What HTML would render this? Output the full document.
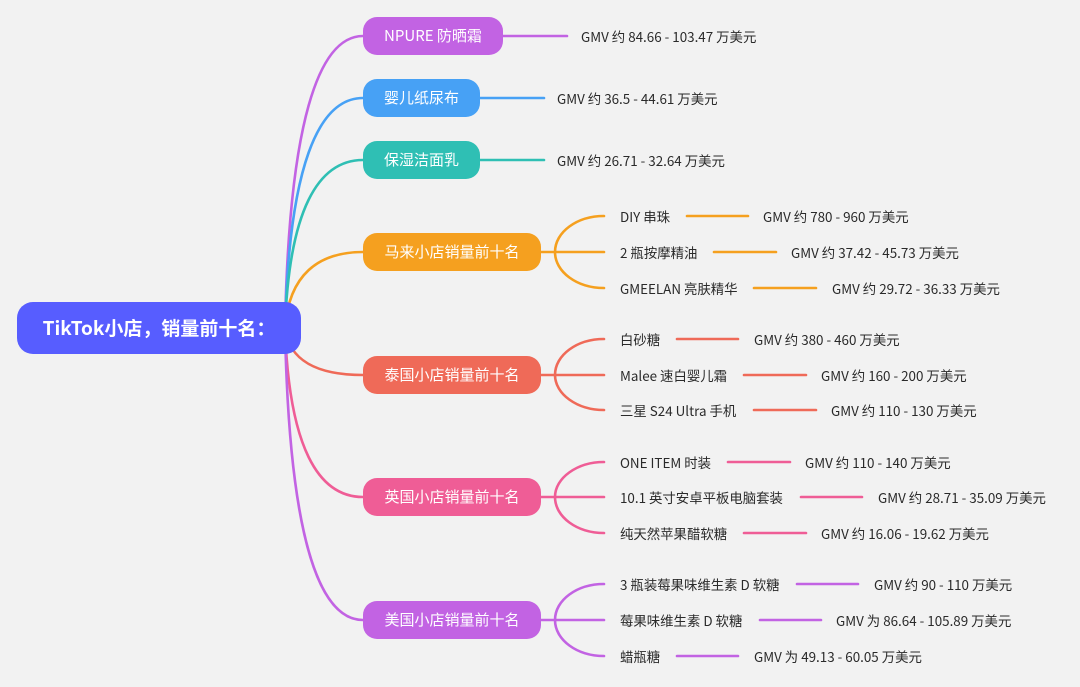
<!DOCTYPE html>
<html><head><meta charset="utf-8">
<style>
html,body{margin:0;padding:0;}
body{width:1080px;height:687px;background:#F2F2F2;position:relative;overflow:hidden;font-family:"Liberation Sans","Noto Sans CJK SC",sans-serif;}
svg{position:absolute;left:0;top:0;}
.node{position:absolute;height:38px;line-height:38px;border-radius:14px;color:#fff;font-size:15px;text-align:center;white-space:nowrap;font-family:"Noto Sans CJK SC","Liberation Sans",sans-serif;}
.root{position:absolute;left:17px;top:302px;width:284px;height:52px;line-height:52px;border-radius:16px;background:#575DFF;color:#fff;font-size:19px;font-weight:bold;text-align:center;white-space:nowrap;font-family:"Noto Sans CJK SC","Liberation Sans",sans-serif;}
.t{position:absolute;height:20px;line-height:20px;font-size:13.4px;color:#2a2a2a;white-space:nowrap;font-family:"Noto Sans CJK SC","Liberation Sans",sans-serif;}
</style></head><body>
<svg width="1080" height="687" viewBox="0 0 1080 687" fill="none" stroke-width="2.6" stroke-linecap="round">
<path d="M285 328 C289 124 318 36 363 36" stroke="#C263E3"/>
<path d="M285 328 C289 167 318 98 363 98" stroke="#47A1F5"/>
<path d="M285 328 C289 210 318 160 363 160" stroke="#2FBFB4"/>
<path d="M285 328 C289 275 318 252 363 252" stroke="#F5A01F"/>
<path d="M285 328 C289 361 318 375 363 375" stroke="#EF6A58"/>
<path d="M285 328 C289 447 318 497 363 497" stroke="#EF5D96"/>
<path d="M285 328 C289 533 318 620 363 620" stroke="#C263E3"/>
<path d="M500 36 H567" stroke="#C263E3"/>
<path d="M477 98 H544" stroke="#47A1F5"/>
<path d="M477 160 H544" stroke="#2FBFB4"/>
<g stroke="#F5A01F">
<path d="M540 252 H604"/>
<path d="M555 252 C555 232 577 216 604 216"/>
<path d="M555 252 C555 272 577 288 604 288"/>
<path d="M687 216 H748"/><path d="M714 252 H776"/><path d="M754 288 H816"/>
</g>
<g stroke="#EF6A58">
<path d="M540 375 H604"/>
<path d="M555 375 C555 355 577 339 604 339"/>
<path d="M555 375 C555 394 577 410 604 410"/>
<path d="M677 339 H738"/><path d="M744 375 H806"/><path d="M754 410 H816"/>
</g>
<g stroke="#EF5D96">
<path d="M540 497 H604"/>
<path d="M555 497 C555 478 577 462 604 462"/>
<path d="M555 497 C555 517 577 533 604 533"/>
<path d="M728 462 H790"/><path d="M801 497 H862"/><path d="M744 533 H806"/>
</g>
<g stroke="#C263E3">
<path d="M540 620 H604"/>
<path d="M555 620 C555 600 577 584 604 584"/>
<path d="M555 620 C555 640 577 656 604 656"/>
<path d="M797 584 H858"/><path d="M760 620 H821"/><path d="M677 656 H738"/>
</g>
</svg>

<div class="root">TikTok小店，销量前十名：</div>

<div class="node" style="left:363px;top:17px;width:140px;background:#C263E3;">NPURE 防晒霜</div>
<div class="node" style="left:363px;top:79px;width:117px;background:#47A1F5;">婴儿纸尿布</div>
<div class="node" style="left:363px;top:141px;width:117px;background:#2FBFB4;">保湿洁面乳</div>
<div class="node" style="left:363px;top:233px;width:178px;background:#F5A01F;">马来小店销量前十名</div>
<div class="node" style="left:363px;top:356px;width:178px;background:#EF6A58;">泰国小店销量前十名</div>
<div class="node" style="left:363px;top:478px;width:178px;background:#EF5D96;">英国小店销量前十名</div>
<div class="node" style="left:363px;top:601px;width:178px;background:#C263E3;">美国小店销量前十名</div>

<div class="t" style="left:581px;top:26px;">GMV 约 84.66 - 103.47 万美元</div>
<div class="t" style="left:557px;top:88px;">GMV 约 36.5 - 44.61 万美元</div>
<div class="t" style="left:557px;top:150px;">GMV 约 26.71 - 32.64 万美元</div>

<div class="t" style="left:620px;top:206px;">DIY 串珠</div>
<div class="t" style="left:763px;top:206px;">GMV 约 780 - 960 万美元</div>
<div class="t" style="left:620px;top:242px;">2 瓶按摩精油</div>
<div class="t" style="left:791px;top:242px;">GMV 约 37.42 - 45.73 万美元</div>
<div class="t" style="left:620px;top:278px;">GMEELAN 亮肤精华</div>
<div class="t" style="left:832px;top:278px;">GMV 约 29.72 - 36.33 万美元</div>

<div class="t" style="left:620px;top:329px;">白砂糖</div>
<div class="t" style="left:754px;top:329px;">GMV 约 380 - 460 万美元</div>
<div class="t" style="left:620px;top:365px;">Malee 速白婴儿霜</div>
<div class="t" style="left:821px;top:365px;">GMV 约 160 - 200 万美元</div>
<div class="t" style="left:620px;top:400px;">三星 S24 Ultra 手机</div>
<div class="t" style="left:831px;top:400px;">GMV 约 110 - 130 万美元</div>

<div class="t" style="left:620px;top:452px;">ONE ITEM 时装</div>
<div class="t" style="left:805px;top:452px;">GMV 约 110 - 140 万美元</div>
<div class="t" style="left:620px;top:487px;">10.1 英寸安卓平板电脑套装</div>
<div class="t" style="left:878px;top:487px;">GMV 约 28.71 - 35.09 万美元</div>
<div class="t" style="left:620px;top:523px;">纯天然苹果醋软糖</div>
<div class="t" style="left:821px;top:523px;">GMV 约 16.06 - 19.62 万美元</div>

<div class="t" style="left:620px;top:574px;">3 瓶装莓果味维生素 D 软糖</div>
<div class="t" style="left:874px;top:574px;">GMV 约 90 - 110 万美元</div>
<div class="t" style="left:620px;top:610px;">莓果味维生素 D 软糖</div>
<div class="t" style="left:836px;top:610px;">GMV 为 86.64 - 105.89 万美元</div>
<div class="t" style="left:620px;top:646px;">蜡瓶糖</div>
<div class="t" style="left:754px;top:646px;">GMV 为 49.13 - 60.05 万美元</div>
</body></html>
